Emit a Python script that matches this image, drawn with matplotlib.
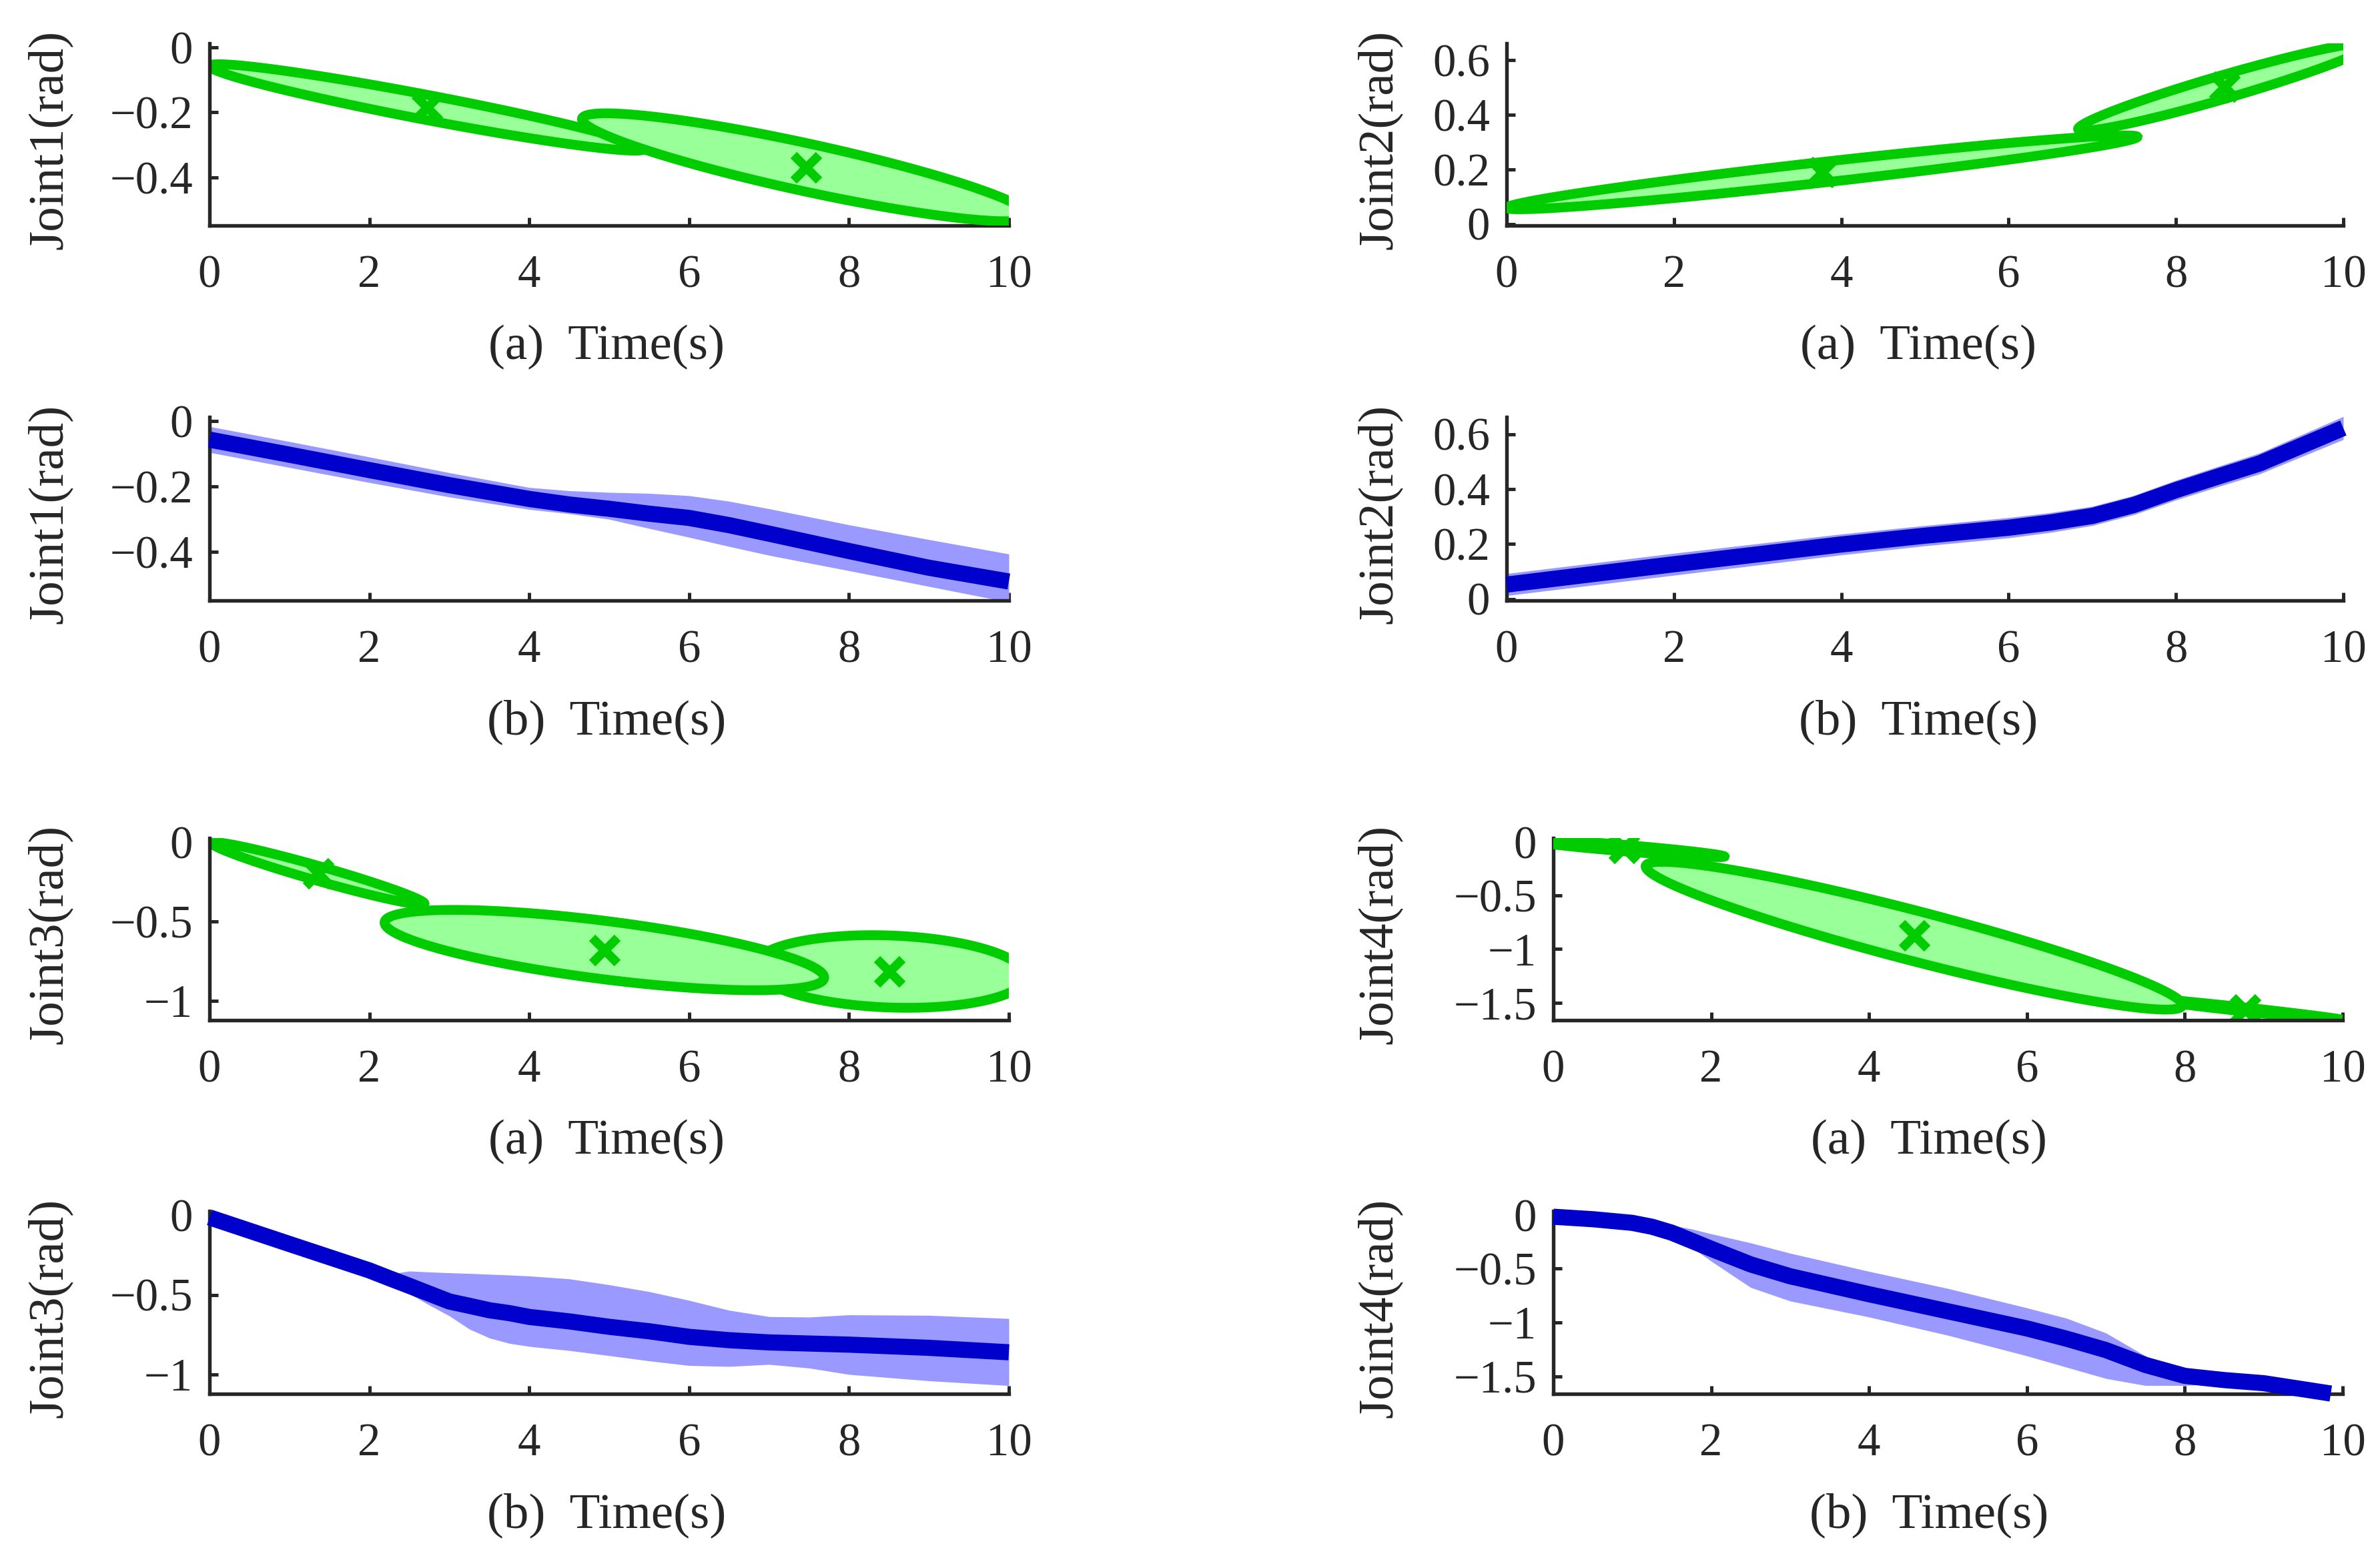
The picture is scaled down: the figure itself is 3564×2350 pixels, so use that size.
import numpy as np
import matplotlib
matplotlib.use("Agg")
import matplotlib.pyplot as plt
from matplotlib.patches import Polygon
from matplotlib.ticker import FuncFormatter

plt.rcParams['font.family'] = ['Liberation Serif', 'DejaVu Serif']

# ---- GMM components (time mean, joint mean, covariance [s_tt, s_tq, s_qq]) ----
gmm_mu_t_j1 = [2.72, 7.46]
gmm_mu_q_j1 = [-0.185, -0.369]
gmm_cov_j1 = [[7.398, -0.3454, 0.01765], [7.84, -0.4144, 0.02753]]

gmm_mu_t_j2 = [3.77, 8.58]
gmm_mu_q_j2 = [0.189, 0.503]
gmm_cov_j2 = [[14.21, 0.490, 0.01834], [3.0625, 0.271, 0.026]]

gmm_mu_t_j3 = [1.36, 4.94, 8.51]
gmm_mu_q_j3 = [-0.197, -0.680, -0.815]
gmm_cov_j3 = [[1.769, -0.2527, 0.0384], [7.5625, -0.476, 0.0641], [2.89, -0.0504, 0.0524]]

gmm_mu_t_j4 = [0.90, 4.57, 8.77]
gmm_mu_q_j4 = [-0.058, -0.875, -1.564]
gmm_cov_j4 = [[1.613, -0.099, 0.0070], [11.56, -2.196, 0.4749], [1.69, -0.1365, 0.0114]]

# ---- GMR output (mean and band) ----
t_j1 = [0, 1, 2, 3, 4, 4.5, 5, 5.5, 6, 6.5, 7, 8, 9, 10]
mean_j1 = [-0.057, -0.103, -0.150, -0.196, -0.238, -0.255, -0.268, -0.283, -0.296, -0.318, -0.344, -0.397, -0.448, -0.490]
upper_j1 = [-0.017, -0.063, -0.110, -0.158, -0.203, -0.213, -0.218, -0.221, -0.228, -0.245, -0.268, -0.317, -0.362, -0.406]
lower_j1 = [-0.096, -0.142, -0.188, -0.232, -0.270, -0.283, -0.300, -0.328, -0.355, -0.383, -0.410, -0.457, -0.505, -0.553]

t_j2 = [0, 1, 2, 3, 4, 5, 6, 6.5, 7, 7.5, 8, 8.5, 9, 10]
mean_j2 = [0.052, 0.089, 0.126, 0.162, 0.198, 0.230, 0.259, 0.278, 0.302, 0.342, 0.396, 0.445, 0.493, 0.622]
upper_j2 = [0.092, 0.129, 0.166, 0.201, 0.236, 0.267, 0.296, 0.314, 0.337, 0.377, 0.432, 0.482, 0.531, 0.664]
lower_j2 = [0.012, 0.049, 0.086, 0.123, 0.160, 0.193, 0.222, 0.242, 0.267, 0.307, 0.360, 0.408, 0.455, 0.580]

t_j3 = [0, 1, 2, 2.25, 2.5, 2.75, 3, 3.25, 3.5, 3.75, 4, 4.5, 5, 5.5, 6, 6.5, 7, 7.5, 8, 9, 10]
mean_j3 = [-0.014, -0.181, -0.347, -0.396, -0.444, -0.493, -0.542, -0.569, -0.597, -0.615, -0.639, -0.667,
           -0.701, -0.729, -0.764, -0.785, -0.799, -0.806, -0.813, -0.833, -0.861]
upper_j3 = [0.001, -0.166, -0.332, -0.370, -0.351, -0.357, -0.362, -0.366, -0.371, -0.376, -0.382, -0.400,
            -0.437, -0.480, -0.535, -0.597, -0.637, -0.640, -0.626, -0.629, -0.649]
lower_j3 = [-0.029, -0.196, -0.362, -0.424, -0.493, -0.565, -0.632, -0.715, -0.771, -0.805, -0.824, -0.850,
            -0.882, -0.915, -0.944, -0.950, -0.937, -0.960, -1.000, -1.040, -1.070]

t_j4 = [0, 0.5, 1, 1.25, 1.5, 1.75, 2, 2.5, 3, 4, 5, 6, 6.5, 7, 7.5, 8, 8.5, 9, 9.85]
mean_j4 = [-0.017, -0.040, -0.074, -0.110, -0.165, -0.240, -0.315, -0.460, -0.570, -0.737, -0.896, -1.055,
           -1.150, -1.256, -1.394, -1.496, -1.535, -1.564, -1.660]
upper_j4 = [-0.005, -0.028, -0.062, -0.085, -0.095, -0.130, -0.176, -0.260, -0.356, -0.525, -0.684, -0.864,
            -0.960, -1.097, -1.310, -1.468, -1.525, -1.555, -1.650]
lower_j4 = [-0.029, -0.052, -0.086, -0.125, -0.200, -0.300, -0.430, -0.674, -0.800, -0.949, -1.119, -1.310,
            -1.415, -1.520, -1.585, -1.585, -1.564, -1.573, -1.670]

joint_names = ['Joint1(rad)', 'Joint2(rad)', 'Joint3(rad)', 'Joint4(rad)']
joint_yticks = [[-0.4, -0.2, 0], [0, 0.2, 0.4, 0.6], [-1, -0.5, 0], [-1.5, -1, -0.5, 0]]
joint_ylims = [(-0.548, 0.012), (-0.006, 0.662), (-1.122, 0.026), (-1.663, 0.036)]
xticks = [0, 2, 4, 6, 8, 10]

GREEN = '#00CC00'
LIGHT_GREEN = '#99FF99'
BLUE = '#0000CC'
LIGHT_BLUE = '#9999FF'
AXC = '#262626'

W, H = 3564, 2350
fig = plt.figure(figsize=(W / 300, H / 300), dpi=300)

rows = [(65, 338), (625, 900), (1256, 1529), (1815, 2089)]
fmt = FuncFormatter(lambda v, p: ('%g' % v).replace('-', '\u2212'))


def make_axes(x0, x1, row, joint, tag, xl_center, yl_center):
    top, bot = rows[row]
    ax = fig.add_axes([x0 / W, 1 - bot / H, (x1 - x0) / W, (bot - top) / H])
    for s in ['top', 'right']:
        ax.spines[s].set_visible(False)
    for s in ['left', 'bottom']:
        ax.spines[s].set_linewidth(1.3)
        ax.spines[s].set_color(AXC)
    ax.set_xlim(0, 10)
    ax.set_ylim(*joint_ylims[joint])
    ax.set_xticks(xticks)
    ax.set_yticks(joint_yticks[joint])
    ax.xaxis.set_major_formatter(fmt)
    ax.yaxis.set_major_formatter(fmt)
    ax.tick_params(direction='in', length=3, width=1.2, colors=AXC, labelsize=16.5)
    ax.tick_params(axis='x', pad=10.5)
    ax.tick_params(axis='y', pad=6)
    ax.set_xlabel(tag + '  Time(s)', fontsize=18, color=AXC, va='center')
    ax.xaxis.set_label_coords(xl_center / W, 1 - (bot + 182) / H, transform=fig.transFigure)
    ax.set_ylabel(joint_names[joint], fontsize=18, color=AXC, va='center')
    ax.yaxis.set_label_coords(yl_center / W, 1 - ((top + bot) / 2 + 8) / H, transform=fig.transFigure)
    return ax


def draw_gmm(ax, mu_t, mu_q, covs):
    ang = np.linspace(0, 2 * np.pi, 200)
    order = np.argsort([c[0] * c[2] - c[1] ** 2 for c in covs])
    for rank, k in enumerate(order):
        s = np.array([[covs[k][0], covs[k][1]], [covs[k][1], covs[k][2]]])
        vals, vecs = np.linalg.eigh(s)
        pts = vecs @ np.diag(np.sqrt(vals)) @ np.vstack([np.cos(ang), np.sin(ang)])
        xy = np.column_stack([pts[0] + mu_t[k], pts[1] + mu_q[k]])
        ax.add_patch(Polygon(xy, closed=True, facecolor=LIGHT_GREEN, edgecolor=GREEN,
                             lw=3.5, zorder=2 + rank))
        ax.plot(mu_t[k], mu_q[k], 'x', color=GREEN, ms=9, mew=3.2, zorder=2.5 + rank)


def draw_gmr(ax, t, mean, upper, lower):
    ax.fill_between(t, lower, upper, color=LIGHT_BLUE, lw=0, zorder=2)
    ax.plot(t, mean, color=BLUE, lw=5.8, solid_capstyle='butt', solid_joinstyle='round',
            clip_on=False, zorder=3)


L = (314, 1512)
R12 = (2258, 3512)
R34 = (2328, 3511)

ax = make_axes(*L, 0, 0, '(a)', 909, 75)
draw_gmm(ax, gmm_mu_t_j1, gmm_mu_q_j1, gmm_cov_j1)
ax = make_axes(*L, 1, 0, '(b)', 909, 75)
draw_gmr(ax, t_j1, mean_j1, upper_j1, lower_j1)

ax = make_axes(*R12, 0, 1, '(a)', 2875, 2068)
draw_gmm(ax, gmm_mu_t_j2, gmm_mu_q_j2, gmm_cov_j2)
ax = make_axes(*R12, 1, 1, '(b)', 2875, 2068)
draw_gmr(ax, t_j2, mean_j2, upper_j2, lower_j2)

ax = make_axes(*L, 2, 2, '(a)', 909, 75)
draw_gmm(ax, gmm_mu_t_j3, gmm_mu_q_j3, gmm_cov_j3)
ax = make_axes(*L, 3, 2, '(b)', 909, 75)
draw_gmr(ax, t_j3, mean_j3, upper_j3, lower_j3)

ax = make_axes(*R34, 2, 3, '(a)', 2891, 2068)
draw_gmm(ax, gmm_mu_t_j4, gmm_mu_q_j4, gmm_cov_j4)
ax = make_axes(*R34, 3, 3, '(b)', 2891, 2068)
draw_gmr(ax, t_j4, mean_j4, upper_j4, lower_j4)

fig.savefig('out.png', dpi=300, facecolor='white')
